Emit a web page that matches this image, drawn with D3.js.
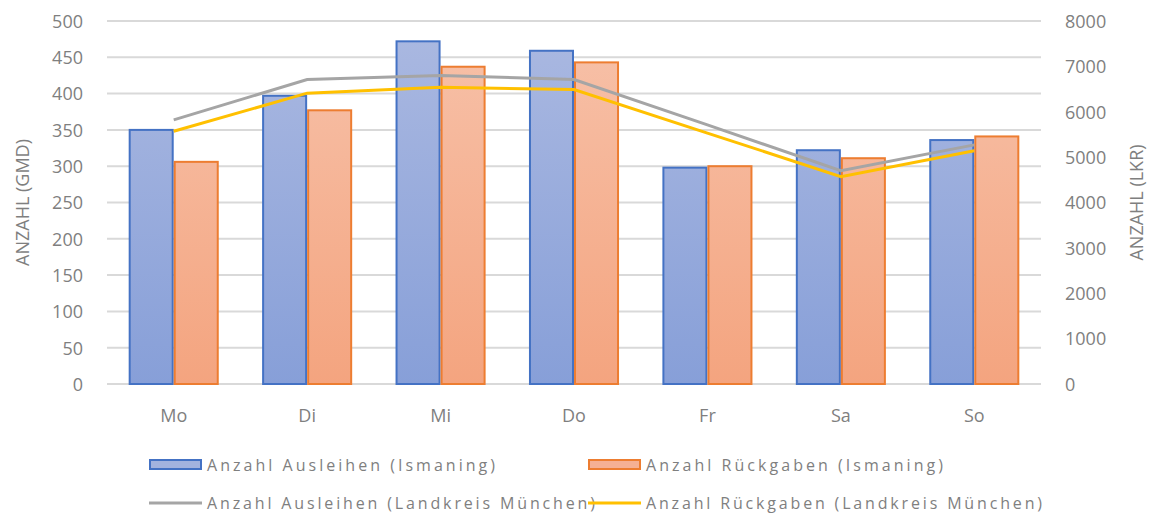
<!DOCTYPE html>
<html><head><meta charset="utf-8">
<script src="https://cdn.jsdelivr.net/npm/d3@7"></script>
<style>body{margin:0;background:#fff}svg{display:block}text{font-family:"Open Sans","Noto Sans",sans-serif;fill:#7f7f7f}</style>
</head><body><svg id="c" width="1152" height="514"></svg>
<script>
const categories = ["Mo","Di","Mi","Do","Fr","Sa","So"];
const ausleihenIsmaning = [350, 397, 472, 459, 298, 322, 336];
const rueckgabenIsmaning = [306, 377, 437, 443, 300, 311, 341];
const ausleihenLandkreis = [5820, 6710, 6800, 6710, 5710, 4700, 5270];
const rueckgabenLandkreis = [5570, 6410, 6540, 6490, 5530, 4570, 5140];
const leftTicks = [0,50,100,150,200,250,300,350,400,450,500];
const rightTicks = [0,1000,2000,3000,4000,5000,6000,7000,8000];
const seriesNames = ["Anzahl Ausleihen (Ismaning)","Anzahl Rückgaben (Ismaning)","Anzahl Ausleihen (Landkreis München)","Anzahl Rückgaben (Landkreis München)"];

const svg = d3.select("#c");
const L = 107, R = 1041, T = 21, B = 384;
const x = d3.scaleBand().domain(categories).range([L, R]).paddingInner(0).paddingOuter(0);
const yL = d3.scaleLinear().domain([0,500]).range([B, T]);
const yR = d3.scaleLinear().domain([0,8000]).range([B, T]);
const groupW = x.bandwidth()*0.675;
const x1 = d3.scaleBand().domain([0,1]).range([0, groupW]);

const defs = svg.append("defs");
function grad(id, c1, c2){
  const g = defs.append("linearGradient").attr("id", id)
    .attr("gradientUnits","userSpaceOnUse").attr("y1",T).attr("y2",B).attr("x1",0).attr("x2",0);
  g.append("stop").attr("offset","0").attr("stop-color",c1);
  g.append("stop").attr("offset","1").attr("stop-color",c2);
}
grad("gb","#abb9e1","#879fd8");
grad("go","#f7c2aa","#f4a47f");

// grid
svg.append("g").selectAll("line").data(leftTicks).join("line")
  .attr("x1", L).attr("x2", R).attr("y1", d=>yL(d)).attr("y2", d=>yL(d))
  .attr("stroke","#d9d9d9").attr("stroke-width",2);

// left axis labels
const axL = svg.append("g").attr("transform",`translate(${L-24},0)`)
  .call(d3.axisLeft(yL).tickValues(leftTicks).tickSize(0).tickPadding(0).tickFormat(d3.format("d")));
axL.select(".domain").remove();
axL.selectAll("text").style("font-size","18px").style("fill","#7f7f7f").attr("dy","0.35em");

const axR = svg.append("g").attr("transform",`translate(${R+24},0)`)
  .call(d3.axisRight(yR).tickValues(rightTicks).tickSize(0).tickPadding(0).tickFormat(d3.format("d")));
axR.select(".domain").remove();
axR.selectAll("text").style("font-size","18px").style("fill","#7f7f7f").attr("dy","0.35em");

svg.append("text").attr("transform",`translate(29,${(T+B)/2}) rotate(-90)`).attr("text-anchor","middle")
  .style("font-size","18px").text("ANZAHL (GMD)");
svg.append("text").attr("transform",`translate(1143,${(T+B)/2}) rotate(-90)`).attr("text-anchor","middle")
  .style("font-size","18px").text("ANZAHL (LKR)");

// x labels
svg.append("g").selectAll("text").data(categories).join("text")
  .attr("x", d=>x(d)+x.bandwidth()/2).attr("y", 422).attr("text-anchor","middle")
  .style("font-size","18px").text(d=>d);

// bars
const bars = svg.append("g");
categories.forEach((c,i)=>{
  const gx = x(c) + (x.bandwidth()-groupW)/2;
  [[ausleihenIsmaning,"url(#gb)","#4472c4"],[rueckgabenIsmaning,"url(#go)","#ed7d31"]].forEach((s,k)=>{
    bars.append("rect").attr("x", gx + x1(k)+1).attr("width", x1.bandwidth()-2)
      .attr("y", yL(s[0][i])).attr("height", yL(0)-yL(s[0][i]))
      .attr("fill", s[1]).attr("stroke", s[2]).attr("stroke-width",2);
  });
});

// lines
const line = d3.line().x((d,i)=>x(categories[i])+x.bandwidth()/2).y(d=>yR(d));
svg.append("path").datum(ausleihenLandkreis).attr("d", line).attr("fill","none").attr("stroke","#a5a5a5").attr("stroke-width",3);
svg.append("path").datum(rueckgabenLandkreis).attr("d", line).attr("fill","none").attr("stroke","#ffc000").attr("stroke-width",3);

// legend
const leg = [
  {x:149, y:465, type:"rect", stroke:"#4472c4", fill:"#a3b3de", tx:207, tw:288, name:seriesNames[0]},
  {x:588, y:465, type:"rect", stroke:"#ed7d31", fill:"#f5b094", tx:646, tw:297, name:seriesNames[1]},
  {x:149, y:503, type:"line", stroke:"#a5a5a5", tx:207, tw:388, name:seriesNames[2]},
  {x:588, y:503, type:"line", stroke:"#ffc000", tx:646, tw:396, name:seriesNames[3]}
];
const lg = svg.append("g");
leg.forEach(d=>{
  if(d.type==="rect"){
    lg.append("rect").attr("x",d.x+1).attr("y",d.y-5).attr("width",51).attr("height",9)
      .attr("fill",d.fill).attr("stroke",d.stroke).attr("stroke-width",2);
  } else {
    lg.append("line").attr("x1",d.x).attr("x2",d.x+53).attr("y1",d.y).attr("y2",d.y).attr("stroke",d.stroke).attr("stroke-width",3);
  }
  lg.append("text").attr("x",d.tx).attr("y",d.y).attr("dy","0.35em").style("font-size","16px")
    .attr("textLength",d.tw).attr("lengthAdjust","spacing").text(d.name);
});
</script></body></html>
